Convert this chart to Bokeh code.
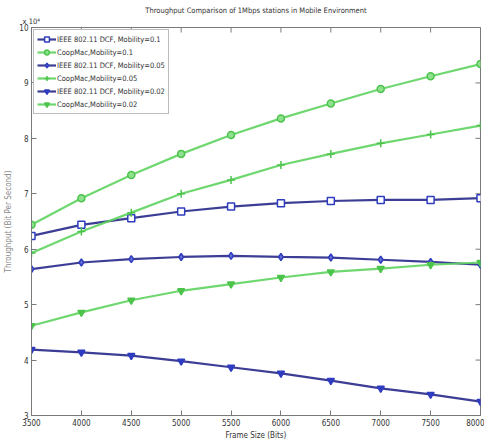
import math
from bokeh.plotting import figure
from bokeh.models import FixedTicker, Range1d, Legend, LegendItem, Title
from bokeh.embed import file_html
from bokeh.resources import INLINE

frame_size = [3500, 4000, 4500, 5000, 5500, 6000, 6500, 7000, 7500, 8000]
# throughput in units of 10^4 bit/s
ieee_01 = [6.24, 6.44, 6.56, 6.68, 6.77, 6.83, 6.87, 6.89, 6.89, 6.92]
coop_01 = [6.44, 6.92, 7.34, 7.72, 8.06, 8.36, 8.63, 8.89, 9.12, 9.34]
ieee_005 = [5.64, 5.76, 5.82, 5.86, 5.88, 5.86, 5.85, 5.81, 5.77, 5.72]
coop_005 = [5.93, 6.32, 6.66, 7.00, 7.25, 7.52, 7.72, 7.91, 8.07, 8.23]
ieee_002 = [4.19, 4.14, 4.08, 3.98, 3.87, 3.76, 3.63, 3.49, 3.38, 3.25]
coop_002 = [4.62, 4.86, 5.08, 5.25, 5.37, 5.49, 5.59, 5.65, 5.72, 5.76]

labels = ["IEEE 802.11 DCF, Mobility=0.1", "CoopMac,Mobility=0.1",
          "IEEE 802.11 DCF, Mobility=0.05", "CoopMac,Mobility=0.05",
          "IEEE 802.11 DCF, Mobility=0.02", "CoopMac,Mobility=0.02"]
x_ticks = [3500, 4000, 4500, 5000, 5500, 6000, 6500, 7000, 7500, 8000]
y_ticks = [3, 4, 5, 6, 7, 8, 9, 10]
title_text = "Throughput Comparison of 1Mbps stations in Mobile Environment"
multiplier_text = "x 10⁴"

FONT = "DejaVu Sans Condensed"
BLUE_LINE = "#27298a"
BLUE_MK = "#2f3cc0"
GREEN_LINE = "#5fd35f"
GREEN_MK = "#4cc44c"
FRAME = "#7a7a7a"

p = figure(width=484, height=442, output_backend="svg", toolbar_location=None,
           x_range=Range1d(x_ticks[0], x_ticks[-1]), y_range=Range1d(y_ticks[0], y_ticks[-1]),
           min_border_left=31, min_border_right=4, min_border_top=27, min_border_bottom=27,
           title=title_text)
p.title.align = "center"
p.title.text_font = FONT
p.title.text_font_size = "7.5px"
p.title.text_font_style = "normal"
p.title.text_color = "#333333"
p.title.standoff = 4

p.add_layout(Title(text=multiplier_text, align="left", vertical_align="top",
                   text_font=FONT, text_font_size="7.5px",
                   text_font_style="normal", text_color="#333333", standoff=0,
                   offset=-9), "above")

p.grid.visible = False
p.outline_line_color = FRAME
p.outline_line_width = 1

for ax in [p.xaxis[0], p.yaxis[0]]:
    ax.major_tick_in = 5
    ax.major_tick_out = 0
    ax.minor_tick_line_color = None
    ax.axis_line_color = FRAME
    ax.major_tick_line_color = FRAME
    ax.major_label_text_font = FONT
    ax.major_label_text_font_size = "8px"
    ax.major_label_text_color = "#333333"
    ax.axis_label_text_font = FONT
    ax.axis_label_text_font_size = "8px"
    ax.axis_label_text_font_style = "normal"
    ax.major_label_standoff = 3

p.xaxis[0].axis_label_standoff = 2
p.yaxis[0].axis_label_standoff = 3
p.xaxis[0].ticker = FixedTicker(ticks=x_ticks)
p.yaxis[0].ticker = FixedTicker(ticks=y_ticks)
p.xaxis[0].axis_label = "Frame Size (Bits)"
p.xaxis[0].axis_label_text_color = "#333333"
p.yaxis[0].axis_label = "Throughput (Bit Per Second)"
p.yaxis[0].axis_label_text_color = "#8a8a8a"

# inward ticks on the top and right edges of the box (clipped half of a dash)
p.scatter(x_ticks, [y_ticks[-1]] * len(x_ticks), marker="dash", angle=math.pi / 2,
          size=10, line_color=FRAME, line_width=1)
p.scatter([x_ticks[-1]] * len(y_ticks), y_ticks, marker="dash",
          size=10, line_color=FRAME, line_width=1)

series = [
    (ieee_01, BLUE_LINE, BLUE_MK, "square", "white"),
    (coop_01, GREEN_LINE, GREEN_MK, "circle", "#8fe08f"),
    (ieee_005, BLUE_LINE, BLUE_MK, "diamond", "#6a74d0"),
    (coop_005, GREEN_LINE, GREEN_MK, "cross", None),
    (ieee_002, BLUE_LINE, BLUE_MK, "inverted_triangle", BLUE_MK),
    (coop_002, GREEN_LINE, GREEN_MK, "inverted_triangle", GREEN_MK),
]
items = []
for (vals, lc, mc, mk, fc), lab in zip(series, labels):
    r1 = p.line(frame_size, vals, line_color=lc, line_width=2.2, line_alpha=0.9)
    size = 7 if mk != "cross" else 8
    r2 = p.scatter(frame_size, vals, marker=mk, size=size, line_color=mc, line_width=1.5,
                   fill_color=fc if fc else mc)
    items.append(LegendItem(label=lab, renderers=[r1, r2]))

leg = Legend(items=items, location="top_left")
leg.label_text_font = FONT
leg.label_text_font_size = "7.5px"
leg.label_text_color = "#333333"
leg.glyph_height = 12
leg.glyph_width = 19
leg.spacing = 1
leg.padding = 3
leg.margin = 2
leg.label_height = 12
leg.label_standoff = 1
leg.border_line_color = FRAME
leg.border_line_width = 1
p.add_layout(leg)

open("out.html", "w").write(file_html(p, INLINE))
